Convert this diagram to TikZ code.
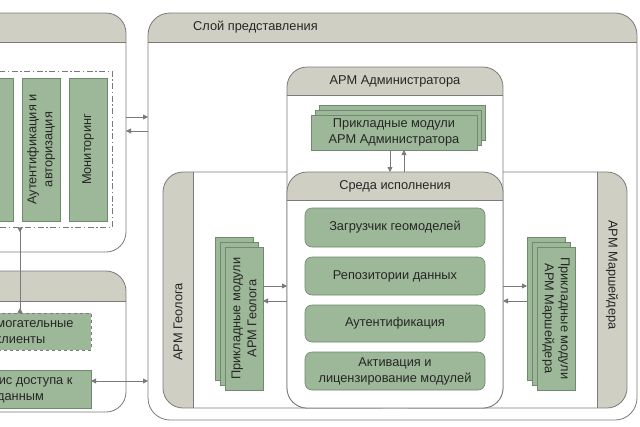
\documentclass[tikz,border=0pt]{standalone}
\usepackage{fontspec}
\setmainfont{Liberation Sans}
\usetikzlibrary{arrows.meta,calc}
\definecolor{lineC}{HTML}{7A7A7A}
\definecolor{bandC}{HTML}{CFCFC4}
\definecolor{greenC}{HTML}{9DB898}
\definecolor{gborder}{HTML}{6F8A6C}
\definecolor{txtC}{HTML}{262626}
\tikzset{
  pnl/.style={draw=lineC, line width=0.8pt, fill=white, rounded corners=20pt, inner sep=0pt, outer sep=0pt},
  hdr/.style={path picture={
      \fill[bandC, sharp corners] (path picture bounding box.north west) rectangle ($(path picture bounding box.north east)+(0pt,-#1pt)$);
      \draw[lineC, line width=0.8pt, sharp corners] ($(path picture bounding box.north west)+(0pt,-#1pt)$) -- ($(path picture bounding box.north east)+(0pt,-#1pt)$);}},
  vhdrL/.style={path picture={
      \fill[bandC, sharp corners] (path picture bounding box.north west) rectangle ($(path picture bounding box.south west)+(#1pt,0pt)$);
      \draw[lineC, line width=0.8pt, sharp corners] ($(path picture bounding box.north west)+(#1pt,0pt)$) -- ($(path picture bounding box.south west)+(#1pt,0pt)$);}},
  vhdrR/.style={path picture={
      \fill[bandC, sharp corners] (path picture bounding box.north east) rectangle ($(path picture bounding box.south east)+(-#1pt,0pt)$);
      \draw[lineC, line width=0.8pt, sharp corners] ($(path picture bounding box.north east)+(-#1pt,0pt)$) -- ($(path picture bounding box.south east)+(-#1pt,0pt)$);}},
  gbox/.style={draw=gborder, fill=greenC, line width=0.6pt, inner sep=2pt, align=center, outer sep=0pt},
  gboxr/.style={gbox, rounded corners=7pt},
  lbl/.style={inner sep=0pt, text=txtC, align=center},
  arr/.style={draw=lineC, line width=0.8pt, -{Triangle[length=5pt,width=5pt]}},
  darr/.style={draw=lineC, line width=0.8pt, {Triangle[length=5pt,width=5pt]}-{Triangle[length=5pt,width=5pt]}},
  rarr/.style={draw=lineC, line width=0.8pt, {Triangle[length=5pt,width=5pt,reversed]}-{Triangle[length=5pt,width=5pt,reversed]}},
}
\begin{document}
\begin{tikzpicture}[x=1pt, y=-1pt, font=\fontsize{12.8}{16}\selectfont, text=txtC]
\useasboundingbox (0,0) rectangle (640,426);
\clip (0,0) rectangle (640,426);
\fill[white] (0,0) rectangle (640,426);

% ---- left panels
\node[pnl, hdr=29, minimum width=186pt, minimum height=239pt] (lt) at (33,132.5) {};
\node[pnl, hdr=30, minimum width=186pt, minimum height=141pt] (lb) at (33,341.5) {};

\node[draw=lineC, line width=0.8pt, dash pattern=on 6pt off 2.5pt on 1.5pt off 2.5pt, minimum width=162pt, minimum height=156pt, inner sep=0pt] (dd) at (31,149) {};
\node[gbox, minimum width=53pt, minimum height=143pt] (ltA) at (-13.5,149.5) {};
\node[gbox, minimum width=38pt, minimum height=143pt] (ltB) at (41,149.5) {};
\node[lbl, rotate=90] (ltBt) at (ltB.center) {Аутентификация и\\авторизация};
\node[gbox, minimum width=38pt, minimum height=143pt] (ltC) at (88,149.5) {};
\node[lbl, rotate=90] (ltCt) at (ltC.center) {Мониторинг};

\node[gbox, draw=lineC, dashed, minimum width=141pt, minimum height=37pt] (vsp) at (20.5,331.5) {Вспомогательные\\клиенты};
\node[gbox, minimum width=141pt, minimum height=38pt] (serv) at (20.5,389) {Сервис доступа к\\данным};

% ---- presentation layer
\node[pnl, hdr=29, rounded corners=22pt, minimum width=489pt, minimum height=407pt] (sloy) at (392.5,216.5) {};
\node[lbl, anchor=west] (sloyT) at (193,27) {Слой представления};

\node[pnl, vhdrL=30, minimum width=237pt, minimum height=236pt] (geo) at (281.5,290) {};
\node[pnl, vhdrR=30, minimum width=237pt, minimum height=236pt] (mar) at (508.5,290) {};
\node[lbl, rotate=90] (geoT) at (178,322) {АРМ Геолога};
\node[lbl, rotate=-90] (marT) at (612,275) {АРМ Маршейдера};

\node[pnl, hdr=28, minimum width=216pt, minimum height=341pt] (adm) at (395,237.5) {};
\node[lbl] (admT) at (395,81) {АРМ Администратора};
\node[pnl, hdr=28, minimum width=216pt, minimum height=236pt] (sreda) at (395,290) {};
\node[lbl] (sredaT) at (395,186) {Среда исполнения};

% admin modules (stack)
\node[gbox, minimum width=166pt, minimum height=35pt] (admB2) at (402,122.5) {};
\node[gbox, minimum width=166pt, minimum height=35pt] (admB1) at (398,127.5) {};
\node[gbox, minimum width=166pt, minimum height=35pt] (admM) at (394,132.5) {Прикладные модули\\АРМ Администратора};

% geolog modules (stack)
\node[gbox, minimum width=38pt, minimum height=143pt] (geoB2) at (234,308.5) {};
\node[gbox, minimum width=38pt, minimum height=143pt] (geoB1) at (239,313.5) {};
\node[gbox, minimum width=38pt, minimum height=143pt] (geoM) at (244,318.5) {};
\node[lbl, rotate=90] (geoMt) at (geoM.center) {Прикладные модули\\АРМ Геолога};

% marksheider modules (stack)
\node[gbox, minimum width=38pt, minimum height=143pt] (marB2) at (546,308.5) {};
\node[gbox, minimum width=38pt, minimum height=143pt] (marB1) at (551,313.5) {};
\node[gbox, minimum width=38pt, minimum height=143pt] (marM) at (556,318.5) {};
\node[lbl, rotate=-90] (marMt) at (marM.center) {Прикладные модули\\АРМ Маршейдера};

% runtime components
\node[gboxr, minimum width=180pt, minimum height=39pt] (s1) at (395,227.5) {Загрузчик геомоделей};
\node[gboxr, minimum width=180pt, minimum height=38pt] (s2) at (395,276) {Репозитории данных};
\node[gboxr, minimum width=180pt, minimum height=37pt] (s3) at (395,323.5) {Аутентификация};
\node[gboxr, minimum width=180pt, minimum height=38pt] (s4) at (395,371) {Активация и\\лицензирование модулей};

% ---- connectors
\coordinate (y1) at (0,117);
\coordinate (y2) at (0,131);
\coordinate (y3) at (0,381);
\coordinate (ya) at (0,286);
\coordinate (yb) at (0,301);
\coordinate (xa) at (390,0);
\coordinate (xb) at (404,0);
\coordinate (xv) at (20,0);

\draw[arr] (lt.east |- y1) -- (sloy.west |- y1);
\draw[arr] (sloy.west |- y2) -- (lt.east |- y2);
\draw[darr] (serv.east |- y3) -- (sloy.west |- y3);
\draw[rarr] (dd.south -| xv) -- (vsp.north -| xv);

\draw[arr] (admM.south -| xa) -- (sreda.north -| xa);
\draw[arr] (sreda.north -| xb) -- (admM.south -| xb);

\draw[arr] (geoM.east |- ya) -- (sreda.west |- ya);
\draw[arr] (sreda.west |- yb) -- (geoM.east |- yb);

\draw[arr] (sreda.east |- ya) -- (marB2.west |- ya);
\draw[arr] (marB2.west |- yb) -- (sreda.east |- yb);
\end{tikzpicture}
\end{document}
